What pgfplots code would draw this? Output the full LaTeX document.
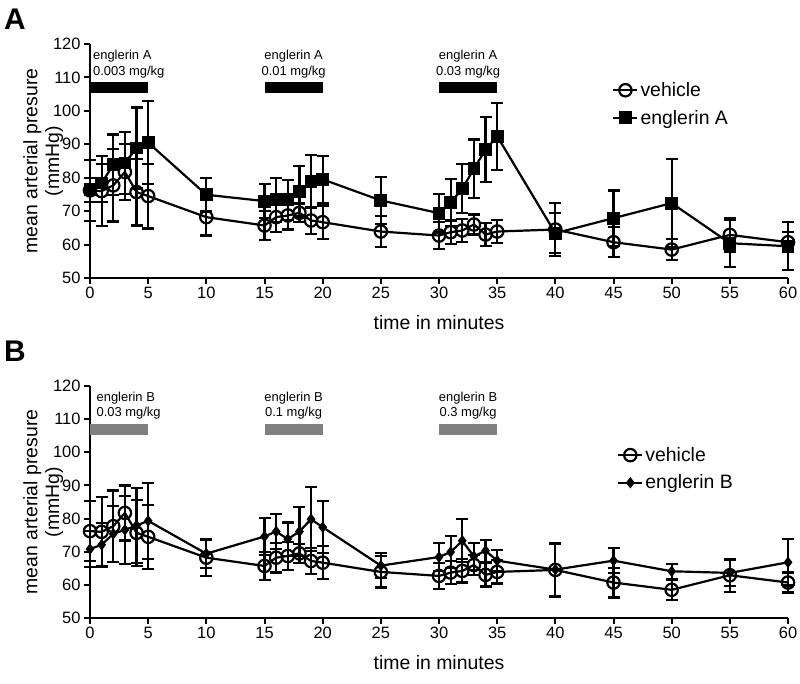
\documentclass[border=0pt]{standalone}
\usepackage{fontspec}
\setmainfont{Liberation Sans}
\usepackage{pgfplots}
\pgfplotsset{compat=1.18}
\usepackage{pgfplotstable}

\pgfplotstableread{
t y e
0 76.2 9.1
1 76.0 10.5
2 77.7 10.8
3 81.7 8.3
4 75.7 10.0
5 74.5 9.7
10 68.2 5.5
15 65.7 4.3
16 68.2 4.5
17 68.7 4.2
18 69.5 2.8
19 67.2 4.0
20 66.7 5.0
25 63.9 4.7
30 62.7 4.0
31 63.7 3.5
32 64.2 3.5
33 66.0 3.0
34 63.0 3.5
35 63.9 3.5
40 64.5 8.0
45 60.7 4.5
50 58.5 3.1
55 62.9 5.0
60 60.7 3.0
}\vehicle

\pgfplotstableread{
t y e
0 76.4 3.6
1 78.4 5.6
2 83.9 9.0
3 84.4 9.3
4 88.9 12.1
5 90.5 12.4
10 74.9 5.0
15 73.0 5.0
16 73.4 6.6
17 73.4 6.0
18 75.9 7.5
19 78.9 8.0
20 79.5 7.0
25 73.2 7.0
30 69.4 5.8
31 72.5 7.0
32 76.7 7.3
33 82.7 8.7
34 88.4 9.8
35 92.4 10.0
40 63.4 6.0
45 67.9 8.3
50 72.4 13.3
55 60.4 7.0
60 59.5 7.2
}\englerinA

\pgfplotstableread{
t y e
0 70.8 5.4
1 72.1 6.5
2 75.4 8.5
3 76.6 10.3
4 77.9 11.3
5 79.3 11.4
10 69.4 4.2
15 74.6 5.5
16 76.1 5.3
17 73.8 5.0
18 76.1 7.3
19 79.8 9.7
20 77.4 7.8
25 65.8 3.8
30 68.4 4.2
31 69.9 4.9
32 73.3 6.5
33 68.6 4.0
34 70.3 3.3
35 67.3 3.3
40 64.6 8.0
45 67.3 3.8
50 64.1 2.3
55 63.6 4.0
60 66.8 7.0
}\englerinB

\pgfplotsset{
  myaxis/.style={
    scale only axis, width=698bp,
    xmin=0, xmax=60, ymin=50, ymax=120,
    axis x line*=bottom, axis y line*=left,
    xtick={0,5,...,60}, ytick={50,60,...,120},
    tick align=outside, major tick length=6bp,
    every tick/.style={line width=2bp, black},
    axis line style={line width=2bp, black},
    tick label style={font=\fontsize{16.5}{18}\selectfont},
    /pgf/number format/assume math mode=true,
    label style={font=\fontsize{19.5}{22}\selectfont},
    xlabel={time in minutes},
    ylabel={mean arterial presure\\(mmHg)},
    ylabel style={align=center, yshift=-17bp},
    xlabel style={yshift=-9bp},
    clip=false,
    legend style={draw=none, fill=none, font=\fontsize{19.5}{23}\selectfont,
      row sep=8bp, inner sep=0pt, cells={anchor=west}},
    legend image code/.code={
      \draw[mark repeat=2,mark phase=2] plot coordinates {(0bp,0bp) (12bp,0bp) (24bp,0bp)};
    },
  },
  veh/.style={black, line width=2.2bp, mark=o, mark size=6.2bp,
    mark options={fill=white, line width=2.2bp, solid}},
  engA/.style={black, line width=2.2bp, mark=square*, mark size=5.3bp,
    mark options={fill=black, solid}},
  engB/.style={black, line width=2.2bp, mark=diamond*, mark size=4bp,
    mark options={fill=black, solid}},
  err/.style={error bars/y dir=both, error bars/y explicit, error bars/error mark=-,
    error bars/error bar style={line width=2.2bp, black, solid},
    error bars/error mark options={rotate=90, line width=2.2bp, black, mark size=6bp}},
}

\begin{document}
\begin{tikzpicture}[x=1bp,y=1bp]
\useasboundingbox (0,0) rectangle (800,684);
\node[font=\bfseries\fontsize{30}{32}\selectfont] at (15,665) {A};
\node[font=\bfseries\fontsize{30}{32}\selectfont] at (15,333) {B};

% Panel A
\begin{axis}[myaxis, height=234bp, at={(90bp,406bp)}, anchor=south west,
  legend style={at={(rel axis cs:0.748,0.845)}, anchor=north west}]
  \addplot[fill=black, draw=none, forget plot] coordinates {(0,105.2) (5,105.2) (5,108.5) (0,108.5)} -- cycle;
  \addplot[fill=black, draw=none, forget plot] coordinates {(15,105.2) (20,105.2) (20,108.5) (15,108.5)} -- cycle;
  \addplot[fill=black, draw=none, forget plot] coordinates {(30,105.2) (35,105.2) (35,108.5) (30,108.5)} -- cycle;
  \node[font=\fontsize{13}{15}\selectfont, anchor=west, inner sep=0pt] at (axis cs:0.25,116.5) {englerin A};
  \node[font=\fontsize{13}{15}\selectfont, anchor=west, inner sep=0pt] at (axis cs:0.25,111.5) {0.003 mg/kg};
  \node[font=\fontsize{13}{15}\selectfont, inner sep=0pt] at (axis cs:17.5,116.5) {englerin A};
  \node[font=\fontsize{13}{15}\selectfont, inner sep=0pt] at (axis cs:17.5,111.5) {0.01 mg/kg};
  \node[font=\fontsize{13}{15}\selectfont, inner sep=0pt] at (axis cs:32.5,116.5) {englerin A};
  \node[font=\fontsize{13}{15}\selectfont, inner sep=0pt] at (axis cs:32.5,111.5) {0.03 mg/kg};
  \addplot[engA, err, forget plot] table[x=t, y=y, y error=e] {\englerinA};
  \addplot[veh, err] table[x=t, y=y, y error=e] {\vehicle};
  \addlegendentry{vehicle}
  \addlegendimage{engA}
  \addlegendentry{englerin A}
\end{axis}

% Panel B
\begin{axis}[myaxis, height=232bp, at={(90bp,66bp)}, anchor=south west,
  legend style={at={(rel axis cs:0.755,0.745)}, anchor=north west}]
  \addplot[fill=black!50, draw=none, forget plot] coordinates {(0,105.3) (5,105.3) (5,108.6) (0,108.6)} -- cycle;
  \addplot[fill=black!50, draw=none, forget plot] coordinates {(15,105.3) (20,105.3) (20,108.6) (15,108.6)} -- cycle;
  \addplot[fill=black!50, draw=none, forget plot] coordinates {(30,105.3) (35,105.3) (35,108.6) (30,108.6)} -- cycle;
  \node[font=\fontsize{13}{15}\selectfont, anchor=west, inner sep=0pt] at (axis cs:0.55,116.4) {englerin B};
  \node[font=\fontsize{13}{15}\selectfont, anchor=west, inner sep=0pt] at (axis cs:0.55,111.9) {0.03 mg/kg};
  \node[font=\fontsize{13}{15}\selectfont, inner sep=0pt] at (axis cs:17.5,116.4) {englerin B};
  \node[font=\fontsize{13}{15}\selectfont, inner sep=0pt] at (axis cs:17.5,111.9) {0.1 mg/kg};
  \node[font=\fontsize{13}{15}\selectfont, inner sep=0pt] at (axis cs:32.5,116.4) {englerin B};
  \node[font=\fontsize{13}{15}\selectfont, inner sep=0pt] at (axis cs:32.5,111.9) {0.3 mg/kg};
  \addplot[engB, err, forget plot] table[x=t, y=y, y error=e] {\englerinB};
  \addplot[veh, err] table[x=t, y=y, y error=e] {\vehicle};
  \addlegendentry{vehicle}
  \addlegendimage{engB}
  \addlegendentry{englerin B}
\end{axis}
\end{tikzpicture}
\end{document}
